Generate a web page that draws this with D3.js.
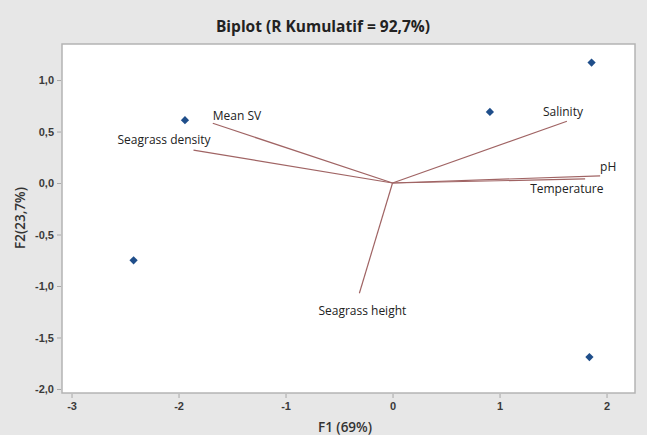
<html lang="en">
  <head>
    <meta charset="UTF-8" />
    <title>Biplot</title>
    <script src="https://d3js.org/d3.v7.min.js"></script>
  </head>
  <style>
    body {
      margin: 0;
      background: #e7e7e7;
    }

    svg {
      display: block;
      font-family: "Open Sans", sans-serif;
    }

    .tick text {
      font-size: 11px;
      fill: #3a3a3a;
      font-weight: 600;
    }

    .tick line {
      stroke: #a8a8a8;
    }

    .domain {
      display: none;
    }

    .vecLabel {
      font-size: 12px;
      fill: #222;
    }
  </style>
  <body>
    <div id="viz"></div>
    <script>
      // observations (scores)
      var pointX = [1.86, 0.91, -1.94, -2.42, 1.84];
      var pointY = [1.17, 0.69, 0.61, -0.75, -1.69];

      // variables (loadings)
      var varNames = ["Mean SV", "Seagrass density", "Salinity", "pH", "Temperature", "Seagrass height"];
      var varX = [-1.68, -1.86, 1.63, 1.94, 1.80, -0.31];
      var varY = [0.58, 0.32, 0.6, 0.07, 0.04, -1.07];

      var xTicks = [-3, -2, -1, 0, 1, 2];
      var yTicks = [1.0, 0.5, 0.0, -0.5, -1.0, -1.5, -2.0];

      // label placement relative to the arrow tip (pixels)
      var labelPos = {
        "Mean SV": [0, -3, "start"],
        "Seagrass density": [-76, -6, "start"],
        "Salinity": [-24, -5, "start"],
        "pH": [0, -5, "start"],
        "Temperature": [-55, 14, "start"],
        "Seagrass height": [3, 22, "middle"]
      };

      var width = 647, height = 435;
      var pLeft = 62, pRight = 635, pTop = 44, pBottom = 393;

      var svg = d3.select("#viz").append("svg")
        .attr("width", width)
        .attr("height", height);

      var x = d3.scaleLinear().domain([-3.089, 2.266]).range([pLeft, pRight]);
      var y = d3.scaleLinear().domain([1.35, -2.039]).range([pTop, pBottom]);

      svg.append("text")
        .attr("x", 323)
        .attr("y", 32)
        .attr("text-anchor", "middle")
        .style("font-size", "15.5px")
        .style("font-weight", "bold")
        .style("fill", "#222")
        .text("Biplot (R Kumulatif = 92,7%)");

      svg.append("rect")
        .attr("x", pLeft)
        .attr("y", pTop)
        .attr("width", pRight - pLeft)
        .attr("height", pBottom - pTop)
        .style("fill", "#fff")
        .style("stroke", "#b4b4b4")
        .style("stroke-width", 1.5);

      var fmt = function (d) { return d3.format(".1f")(d).replace(".", ",").replace("\u2212", "-"); };

      svg.append("g")
        .attr("transform", "translate(0," + (pBottom + 1) + ")")
        .call(d3.axisBottom(x).tickValues(xTicks).tickSize(4).tickPadding(4)
          .tickFormat(function (d) { return String(d); }));

      svg.append("g")
        .attr("transform", "translate(" + (pLeft - 1) + ",0)")
        .call(d3.axisLeft(y).tickValues(yTicks).tickSize(4).tickPadding(3).tickFormat(fmt));

      svg.append("text")
        .attr("x", 345)
        .attr("y", 432)
        .attr("text-anchor", "middle")
        .style("font-size", "13.5px")
        .style("font-weight", "600")
        .style("fill", "#333")
        .text("F1 (69%)");

      svg.append("text")
        .attr("transform", "translate(25,218) rotate(-90)")
        .attr("text-anchor", "middle")
        .style("font-size", "13.5px")
        .style("font-weight", "600")
        .style("fill", "#333")
        .text("F2(23,7%)");

      var vars = varNames.map(function (n, i) {
        return { name: n, x: varX[i], y: varY[i] };
      });

      var vg = svg.append("g").selectAll("g")
        .data(vars)
        .enter()
        .append("g");

      vg.append("line")
        .attr("x1", x(0))
        .attr("y1", y(0))
        .attr("x2", function (d) { return x(d.x); })
        .attr("y2", function (d) { return y(d.y); })
        .style("stroke", "#a06464")
        .style("stroke-width", 1.2);

      vg.append("text")
        .attr("class", "vecLabel")
        .attr("x", function (d) { return x(d.x) + labelPos[d.name][0]; })
        .attr("y", function (d) { return y(d.y) + labelPos[d.name][1]; })
        .attr("text-anchor", function (d) { return labelPos[d.name][2]; })
        .text(function (d) { return d.name; });

      svg.append("g").selectAll("path")
        .data(pointX)
        .enter()
        .append("path")
        .attr("d", d3.symbol().type(d3.symbolSquare).size(34))
        .attr("transform", function (d, i) {
          return "translate(" + x(d) + "," + y(pointY[i]) + ") rotate(45)";
        })
        .style("fill", "#1f4e8a");
    </script>
  </body>
</html>
